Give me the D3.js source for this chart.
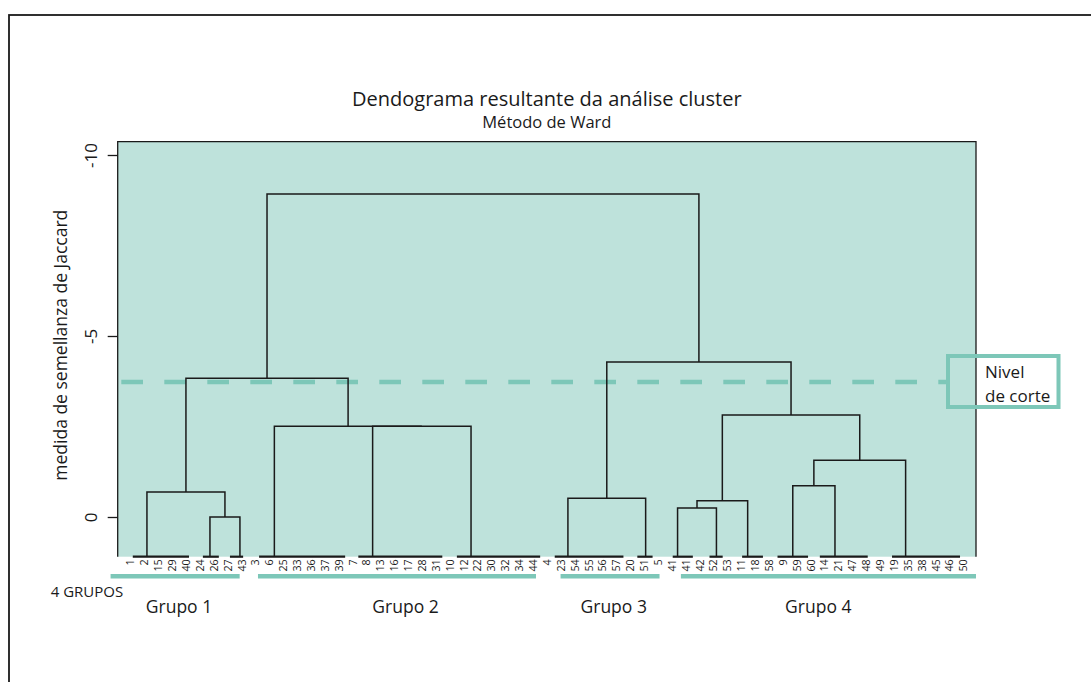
<!DOCTYPE html>
<html>
<head>
<meta charset="utf-8">
<script src="https://cdn.jsdelivr.net/npm/d3@7"></script>
<style>
body { margin: 0; background: #fff; }
svg text { font-family: 'Open Sans', 'Noto Sans', sans-serif; fill: #1a1a1a; }
</style>
</head>
<body>
<div id="chart"></div>
<script>
const width = 1091;
const height = 682;
const teal = '#7dc7b8';
const plotBg = '#bee2db';
const ink = '#1a1a1a';

// leaf labels, left to right (41 appears twice in the figure)
const leaves = ['1','2','15','29','40','24','26','27','43','3','6','25','33','36','37','39','7','8','13','16','17','28','31','10','12','22','30','32','34','44','4','23','54','55','56','57','20','51','5','41','41','42','52','53','11','18','58','9','59','60','14','21','47','48','49','19','35','38','45','46','50'];

// bottom clusters, in leaf index units: span along the base and stem position
const baseFrom = [0.15, 5.2, 7.15, 9.25, 16.4, 23.5, 30.55, 36.5, 39.05, 41.7, 44.05, 46.6, 49.65, 54.85];
const baseTo   = [4.2, 6.35, 8.1, 15.45, 22.45, 29.5, 35.5, 37.6, 40.5, 42.65, 45.55, 48.8, 53.1, 59.75];
const baseStem = [1.17, 5.71, 7.87, 10.35, 17.43, 24.52, 31.5, 37.1, 39.4, 42.2, 44.45, 47.7, 50.74, 55.83];

// merges (b = bottom cluster, m = merge) and their heights
const mergeIds    = ['m1','m2','m3','m4','m5','m6','m7','m8','m9','m10','m11','m12','m13'];
const mergeLeft   = ['b1','b0','b4','b3','m2','b6','b8','m7','b11','m9','m8','m6','m5'];
const mergeRight  = ['b2','m1','b5','m3','m4','b7','b9','b10','b12','b13','m10','m11','m12'];
const mergeHeight = [0.0, -0.69, -2.51, -2.51, -3.83, -0.52, -0.25, -0.45, -0.86, -1.57, -2.82, -4.28, -8.92];

const cutHeight = -3.73;
const yTicks = [-10, -5, 0];

// the four groups: span under the leaves and where the name sits
const groupNames = ['Grupo 1', 'Grupo 2', 'Grupo 3', 'Grupo 4'];
const groupFrom  = [-1.45, 9.17, 30.97, 39.64];
const groupTo    = [7.85, 29.2, 38.1, 60.9];
const groupLabelAt = [3.48, 19.8, 34.8, 49.54];

const plot = { left: 117.7, right: 976, top: 141.7, bottom: 556.7 };

function initSvg(){
    return d3.select('#chart')
        .append('svg')
        .attr('width', width)
        .attr('height', height);
}

const svg = initSvg();

const x = d3.scaleLinear()
    .domain([0, leaves.length - 1])
    .range([130.7, 963.5]);

const y = d3.scaleLinear()
    .domain([0, -10])
    .range([517, 155]);

const baseHeight = y.invert(plot.bottom);

// outer frame (only top and left edges fall in view)
svg.append('rect')
    .attr('x', 9).attr('y', 15)
    .attr('width', 1300).attr('height', 900)
    .attr('fill', 'none')
    .attr('stroke', ink)
    .attr('stroke-width', 1.8);

// plot background
svg.append('rect')
    .attr('x', plot.left).attr('y', plot.top)
    .attr('width', plot.right - plot.left)
    .attr('height', plot.bottom - plot.top)
    .attr('fill', plotBg);

svg.append('path')
    .attr('d', `M${plot.left},${plot.bottom}V${plot.top}H${plot.right}V${plot.bottom}`)
    .attr('fill', 'none')
    .attr('stroke', ink)
    .attr('stroke-width', 1.3);

// titles
svg.append('text')
    .attr('x', (plot.left + plot.right) / 2)
    .attr('y', 106)
    .attr('text-anchor', 'middle')
    .style('font-size', '20px')
    .text('Dendograma resultante da análise cluster');

svg.append('text')
    .attr('x', (plot.left + plot.right) / 2)
    .attr('y', 128)
    .attr('text-anchor', 'middle')
    .style('font-size', '16.5px')
    .text('Método de Ward');

// y axis
const yAxis = svg.append('g')
    .attr('transform', `translate(${plot.left},0)`)
    .call(d3.axisLeft(y).tickValues(yTicks).tickSize(10).tickFormat(d => String(d)));
yAxis.select('.domain').remove();
yAxis.selectAll('line').attr('stroke', ink).attr('stroke-width', 1.3);
yAxis.selectAll('text')
    .attr('transform', 'rotate(-90)')
    .attr('x', 0).attr('y', -21).attr('dy', 0)
    .attr('text-anchor', 'middle')
    .attr('fill', ink)
    .style('font-family', "'Open Sans', sans-serif")
    .style('font-size', '17px');

svg.append('text')
    .attr('transform', `translate(67,${(plot.top + plot.bottom) / 2 - 4}) rotate(-90)`)
    .attr('text-anchor', 'middle')
    .style('font-size', '17.5px')
    .text('medida de semellanza de Jaccard');

// cut level
svg.append('line')
    .attr('x1', plot.left + 3.6).attr('x2', 946)
    .attr('y1', y(cutHeight)).attr('y2', y(cutHeight))
    .attr('stroke', teal)
    .attr('stroke-width', 4.5)
    .attr('stroke-dasharray', '21.7 21.3');

// dendrogram nodes
const nodes = {};
baseStem.forEach((s, i) => { nodes['b' + i] = { pos: s, h: baseHeight }; });
mergeIds.forEach((id, i) => {
    const l = nodes[mergeLeft[i]], r = nodes[mergeRight[i]];
    nodes[id] = { pos: (l.pos + r.pos) / 2, h: mergeHeight[i], l: l, r: r };
});

const tree = svg.append('g')
    .attr('fill', 'none')
    .attr('stroke', ink)
    .attr('stroke-width', 1.5);

tree.selectAll('path')
    .data(mergeIds.map(id => nodes[id]))
    .enter()
    .append('path')
    .attr('d', d => `M${x(d.l.pos)},${y(d.l.h)}V${y(d.h)}H${x(d.r.pos)}V${y(d.r.h)}`);

// base segments joining the leaves of each bottom cluster
svg.append('g')
    .selectAll('line')
    .data(baseFrom.map((f, i) => ({ from: f, to: baseTo[i] })))
    .enter()
    .append('line')
    .attr('x1', d => x(d.from)).attr('x2', d => x(d.to))
    .attr('y1', plot.bottom).attr('y2', plot.bottom)
    .attr('stroke', ink)
    .attr('stroke-width', 2.2);

// leaf labels
svg.append('g')
    .selectAll('text')
    .data(leaves)
    .enter()
    .append('text')
    .attr('transform', (d, i) => `translate(${x(i)},${plot.bottom + 2.5}) rotate(-90)`)
    .attr('text-anchor', 'end')
    .attr('dy', '0.35em')
    .style('font-size', '10.8px')
    .text(d => d);

// group bars and names
svg.append('g')
    .selectAll('line')
    .data(groupNames)
    .enter()
    .append('line')
    .attr('x1', (d, i) => x(groupFrom[i])).attr('x2', (d, i) => x(groupTo[i]))
    .attr('y1', 576.3).attr('y2', 576.3)
    .attr('stroke', teal)
    .attr('stroke-width', 4.5);

svg.append('g')
    .selectAll('text')
    .data(groupNames)
    .enter()
    .append('text')
    .attr('x', (d, i) => x(groupLabelAt[i]))
    .attr('y', 612.7)
    .attr('text-anchor', 'middle')
    .style('font-size', '17.5px')
    .text(d => d);

svg.append('text')
    .attr('x', 50.7).attr('y', 596.7)
    .style('font-size', '15px')
    .text('4 GRUPOS');

// legend box for the cut level
svg.append('rect')
    .attr('x', 948).attr('y', 356)
    .attr('width', 110.5).attr('height', 51)
    .attr('fill', 'none')
    .attr('stroke', teal)
    .attr('stroke-width', 4);

svg.append('text')
    .attr('x', 985).attr('y', 377.7)
    .style('font-size', '17px')
    .text('Nivel');

svg.append('text')
    .attr('x', 985).attr('y', 401.7)
    .style('font-size', '17px')
    .text('de corte');
</script>
</body>
</html>
